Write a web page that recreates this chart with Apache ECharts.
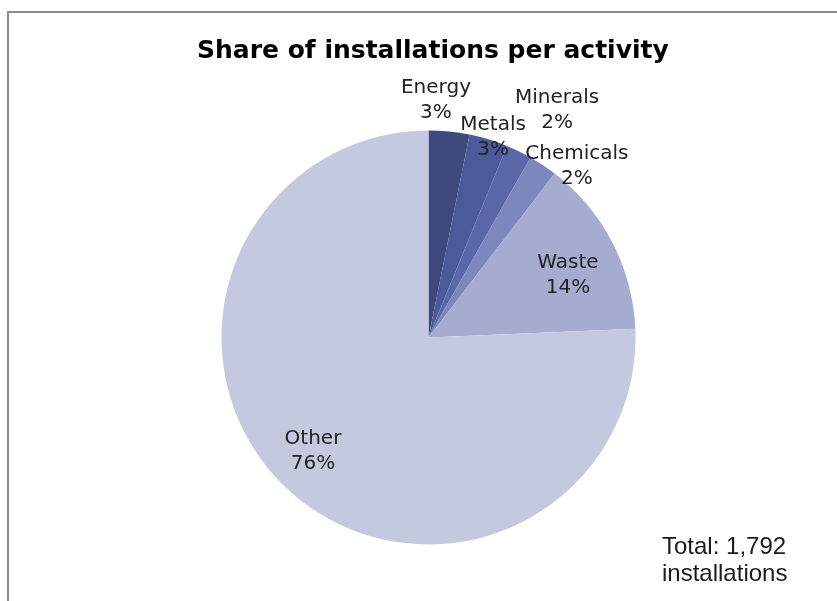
<!DOCTYPE html>
<html>
<head>
<meta charset="utf-8">
<title>Share of installations per activity</title>
<script src="https://cdn.jsdelivr.net/npm/echarts@6/dist/echarts.min.js"></script>
<style>
  html, body { margin: 0; padding: 0; background: #ffffff; }
  #chart { width: 837px; height: 601px; }
</style>
</head>
<body>
<div id="chart"></div>
<script>
// Number of installations in each activity group
const activities = ['Energy', 'Metals', 'Minerals', 'Chemicals', 'Waste', 'Other'];
const installations = [57, 54, 36, 40, 249, 1356];

// Slice fills, darkest first
const sliceColors = ['#3e4a7e', '#4b5a99', '#5a68aa', '#7c87bd', '#a6acd0', '#c5c9df'];

// Label anchors, as fractions of the pie radius from its centre
const labelSpots = {
  Energy:    [0.036, -1.147],
  Metals:    [0.312, -0.969],
  Minerals:  [0.621, -1.099],
  Chemicals: [0.717, -0.829],
  Waste:     [0.674, -0.302],
  Other:     [-0.558, 0.548]
};

const pieCenter = [428.5, 337.5];
const pieRadius = 207;

const total = installations.reduce((a, b) => a + b, 0);

const chart = echarts.init(document.getElementById('chart'), null, { renderer: 'canvas' });

chart.setOption({
  animation: false,
  backgroundColor: '#ffffff',
  title: {
    text: 'Share of installations per activity',
    left: 192,
    top: 34,
    textStyle: {
      fontFamily: 'DejaVu Sans',
      fontWeight: 'bold',
      fontSize: 25,
      color: '#000000'
    }
  },
  graphic: [
    {
      type: 'rect',
      silent: true,
      shape: { x: 8, y: 12, width: 900, height: 700 },
      style: { fill: 'none', stroke: '#8c8c8c', lineWidth: 2 }
    },
    {
      type: 'text',
      left: 662,
      top: 534,
      style: {
        text: 'Total: ' + total.toLocaleString('en-US') + '\ninstallations',
        font: '24px "Liberation Sans"',
        lineHeight: 27,
        fill: '#1a1a1a'
      }
    }
  ],
  series: [
    {
      type: 'pie',
      center: pieCenter,
      radius: pieRadius,
      startAngle: 90,
      clockwise: true,
      percentPrecision: 0,
      silent: true,
      itemStyle: { borderWidth: 0 },
      color: sliceColors,
      label: {
        show: true,
        position: 'inside',
        formatter: '{b}\n{d}%',
        fontFamily: 'DejaVu Sans',
        fontSize: 20,
        lineHeight: 25,
        color: '#222222',
        align: 'center'
      },
      labelLine: { show: false },
      labelLayout: function (params) {
        const spot = labelSpots[activities[params.dataIndex]];
        return {
          x: pieCenter[0] + spot[0] * pieRadius,
          y: pieCenter[1] + spot[1] * pieRadius,
          align: 'center',
          verticalAlign: 'middle'
        };
      },
      data: activities.map((name, i) => ({ name: name, value: installations[i] }))
    }
  ]
});
</script>
</body>
</html>
